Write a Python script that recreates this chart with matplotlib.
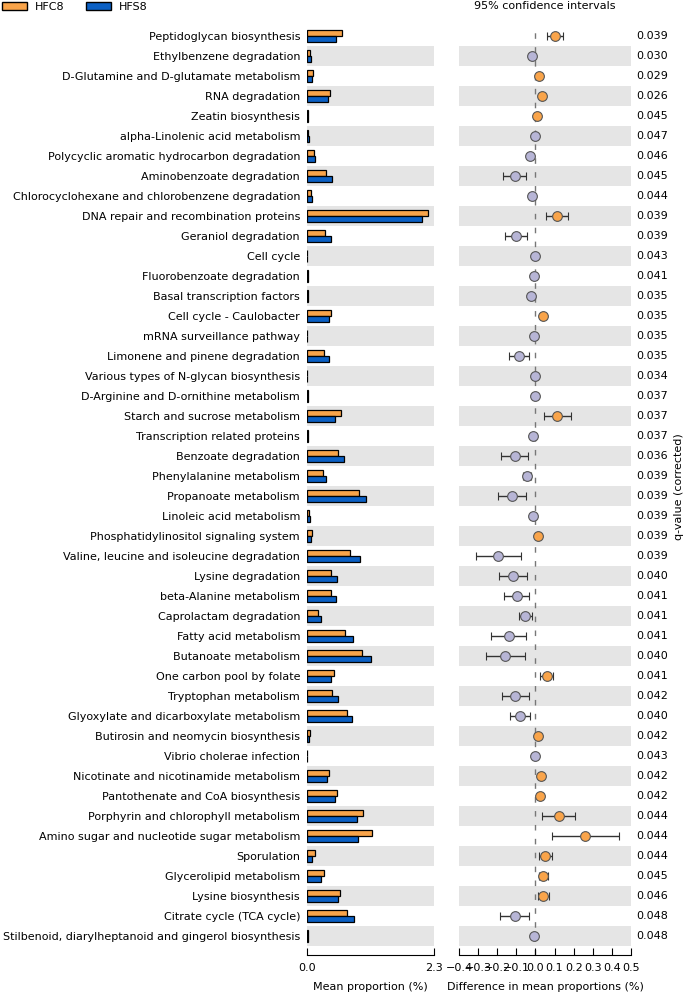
import numpy as np
import matplotlib
matplotlib.use('Agg')
import matplotlib.pyplot as plt
from matplotlib.patches import Patch
import matplotlib.transforms as mtransforms

pathways = [
    'Peptidoglycan biosynthesis', 'Ethylbenzene degradation',
    'D-Glutamine and D-glutamate metabolism', 'RNA degradation',
    'Zeatin biosynthesis', 'alpha-Linolenic acid metabolism',
    'Polycyclic aromatic hydrocarbon degradation', 'Aminobenzoate degradation',
    'Chlorocyclohexane and chlorobenzene degradation',
    'DNA repair and recombination proteins', 'Geraniol degradation',
    'Cell cycle', 'Fluorobenzoate degradation', 'Basal transcription factors',
    'Cell cycle - Caulobacter', 'mRNA surveillance pathway',
    'Limonene and pinene degradation', 'Various types of N-glycan biosynthesis',
    'D-Arginine and D-ornithine metabolism', 'Starch and sucrose metabolism',
    'Transcription related proteins', 'Benzoate degradation',
    'Phenylalanine metabolism', 'Propanoate metabolism',
    'Linoleic acid metabolism', 'Phosphatidylinositol signaling system',
    'Valine, leucine and isoleucine degradation', 'Lysine degradation',
    'beta-Alanine metabolism', 'Caprolactam degradation',
    'Fatty acid metabolism', 'Butanoate metabolism',
    'One carbon pool by folate', 'Tryptophan metabolism',
    'Glyoxylate and dicarboxylate metabolism',
    'Butirosin and neomycin biosynthesis', 'Vibrio cholerae infection',
    'Nicotinate and nicotinamide metabolism',
    'Pantothenate and CoA biosynthesis', 'Porphyrin and chlorophyll metabolism',
    'Amino sugar and nucleotide sugar metabolism', 'Sporulation',
    'Glycerolipid metabolism', 'Lysine biosynthesis',
    'Citrate cycle (TCA cycle)',
    'Stilbenoid, diarylheptanoid and gingerol biosynthesis',
]

hfc8 = [0.627, 0.048, 0.108, 0.41, 0.024, 0.02, 0.12, 0.337, 0.066, 2.2,
        0.325, 0.005, 0.02, 0.015, 0.434, 0.008, 0.307, 0.005, 0.012, 0.62,
        0.018, 0.56, 0.289, 0.94, 0.036, 0.084, 0.777, 0.428, 0.428, 0.199,
        0.68, 0.988, 0.482, 0.458, 0.723, 0.048, 0.003, 0.39, 0.536, 1.018,
        1.169, 0.139, 0.301, 0.59, 0.729, 0.01]
hfs8 = [0.524, 0.072, 0.096, 0.373, 0.024, 0.035, 0.145, 0.446, 0.084, 2.09,
        0.428, 0.005, 0.025, 0.02, 0.404, 0.008, 0.398, 0.005, 0.012, 0.506,
        0.018, 0.669, 0.337, 1.066, 0.054, 0.072, 0.964, 0.542, 0.524, 0.259,
        0.825, 1.15, 0.428, 0.566, 0.807, 0.036, 0.003, 0.355, 0.506, 0.904,
        0.916, 0.09, 0.259, 0.554, 0.843, 0.01]

diff = [0.102, -0.017, 0.02, 0.034, 0.006, -0.003, -0.029, -0.107, -0.017,
        0.112, -0.102, 0.0, -0.006, -0.022, 0.038, -0.006, -0.088, -0.004,
        -0.004, 0.114, -0.015, -0.109, -0.045, -0.123, -0.011, 0.011, -0.195,
        -0.116, -0.099, -0.053, -0.139, -0.158, 0.058, -0.107, -0.081, 0.011,
        -0.003, 0.03, 0.025, 0.123, 0.261, 0.051, 0.039, 0.041, -0.107, -0.006]
ci_low = [0.062, -0.022, 0.015, 0.028, 0.002, -0.007, -0.034, -0.168, -0.022,
          0.053, -0.161, -0.003, -0.01, -0.027, 0.03, -0.01, -0.14, -0.008,
          -0.008, 0.046, -0.02, -0.179, -0.067, -0.198, -0.016, 0.006, -0.313,
          -0.19, -0.163, -0.088, -0.23, -0.261, 0.024, -0.177, -0.132, 0.006,
          -0.006, 0.022, 0.018, 0.036, 0.088, 0.018, 0.016, 0.015, -0.183, -0.01]
ci_high = [0.145, -0.012, 0.025, 0.04, 0.01, 0.001, -0.024, -0.05, -0.012,
           0.172, -0.043, 0.003, -0.002, -0.017, 0.046, -0.002, -0.036, 0.0,
           0.0, 0.186, -0.01, -0.039, -0.022, -0.048, -0.006, 0.016, -0.074,
           -0.043, -0.034, -0.02, -0.048, -0.057, 0.093, -0.036, -0.027, 0.016,
           0.0, 0.038, 0.032, 0.207, 0.437, 0.086, 0.065, 0.069, -0.034, -0.002]
qvalues = ['0.039', '0.030', '0.029', '0.026', '0.045', '0.047', '0.046',
           '0.045', '0.044', '0.039', '0.039', '0.043', '0.041', '0.035',
           '0.035', '0.035', '0.035', '0.034', '0.037', '0.037', '0.037',
           '0.036', '0.039', '0.039', '0.039', '0.039', '0.039', '0.040',
           '0.041', '0.041', '0.041', '0.040', '0.041', '0.042', '0.040',
           '0.042', '0.043', '0.042', '0.042', '0.044', '0.044', '0.044',
           '0.045', '0.046', '0.048', '0.048']

orange = '#F9A44A'
blue = '#0B60C4'
lavender = '#B7B5D6'
band = '#E5E5E5'

plt.rcParams['font.family'] = 'DejaVu Sans'
plt.rcParams['font.size'] = 8

fig = plt.figure(figsize=(6.87, 9.92), dpi=100)
W, H = 687.0, 992.0
top, bottom = 26, 955
ax1 = fig.add_axes([307 / W, 1 - bottom / H, 127 / W, (bottom - top) / H])
ax2 = fig.add_axes([459 / W, 1 - bottom / H, 172 / W, (bottom - top) / H])

n = len(pathways)
y = np.arange(n)
for ax in (ax1, ax2):
    # grey band on every second row
    for i in range(1, n, 2):
        ax.axhspan(i - 0.5, i + 0.5, color=band, zorder=0, lw=0)
    ax.set_ylim(45.95, -0.5)
    for s in ('top', 'right', 'left'):
        ax.spines[s].set_visible(False)
    ax.tick_params(axis='x', direction='in', length=5, pad=6, labelsize=8)
    ax.tick_params(axis='y', length=0)

bh = 0.29
ax1.barh(y - bh / 2, hfc8, height=bh, color=orange, edgecolor='black', lw=0.9, zorder=2)
ax1.barh(y + bh / 2, hfs8, height=bh, color=blue, edgecolor='black', lw=0.9, zorder=2)
ax1.set_xlim(0, 2.3)
ax1.set_xticks([0, 2.3])
ax1.set_xticklabels(['0.0', '2.3'])
ax1.set_yticks(y)
ax1.set_yticklabels(pathways, fontsize=8)
ax1.tick_params(axis='y', pad=5)
ax1.set_xlabel('Mean proportion (%)', fontsize=8, labelpad=6)

ax2.axvline(0, color='#777777', lw=1, dashes=(4, 6), zorder=1)
diff = np.array(diff)
lo = diff - np.array(ci_low)
hi = np.array(ci_high) - diff
for i in range(n):
    col = orange if diff[i] > 0 else lavender
    ax2.errorbar(diff[i], y[i], xerr=[[lo[i]], [hi[i]]], fmt='o', ms=7,
                 mfc=col, mec='#555555', mew=0.8, ecolor='#333333',
                 elinewidth=1, capsize=3, capthick=1, zorder=3)
ax2.set_xlim(-0.4, 0.5)
ax2.set_xticks(np.round(np.arange(-0.4, 0.51, 0.1), 1))
ax2.set_yticks([])
ax2.set_xlabel('Difference in mean proportions (%)', fontsize=8, labelpad=6)

trans = mtransforms.blended_transform_factory(ax2.transAxes, ax2.transData)
for i, q in enumerate(qvalues):
    ax2.text(1.03, y[i], q, transform=trans, ha='left', va='center', fontsize=8)

fig.text(679 / W, 1 - 487 / H, 'q-value (corrected)', rotation=90,
         ha='center', va='center', fontsize=8)
fig.text(545 / W, 1 - 6 / H, '95% confidence intervals', ha='center',
         va='center', fontsize=8)

handles = [Patch(facecolor=orange, edgecolor='black', lw=1),
           Patch(facecolor=blue, edgecolor='black', lw=1)]
fig.legend(handles, ['HFC8', 'HFS8'], loc='upper left', bbox_to_anchor=(0.0, 1.0),
           ncol=2, frameon=False, fontsize=8, handlelength=2.2, handleheight=0.7,
           handletextpad=0.7, columnspacing=2.0, borderpad=0.1, borderaxespad=0.1)

fig.savefig('out.png', dpi=100)
